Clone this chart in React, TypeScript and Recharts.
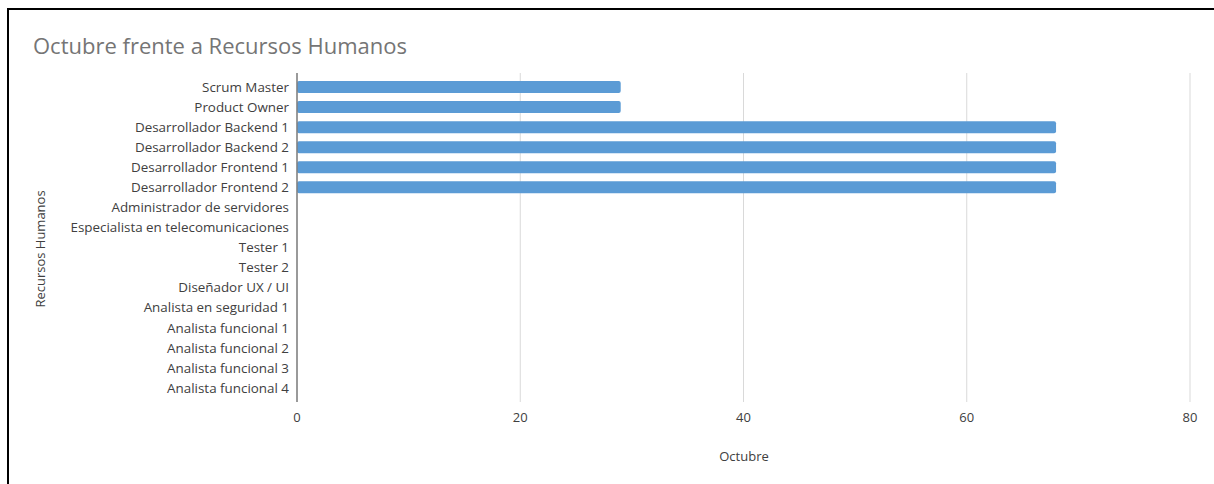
import { BarChart, Bar, XAxis, YAxis, CartesianGrid } from "recharts"

const roles = [
  "Scrum Master",
  "Product Owner",
  "Desarrollador Backend 1",
  "Desarrollador Backend 2",
  "Desarrollador Frontend 1",
  "Desarrollador Frontend 2",
  "Administrador de servidores",
  "Especialista en telecomunicaciones",
  "Tester 1",
  "Tester 2",
  "Diseñador UX / UI",
  "Analista en seguridad 1",
  "Analista funcional 1",
  "Analista funcional 2",
  "Analista funcional 3",
  "Analista funcional 4",
]

const octubre = [29, 29, 68, 68, 68, 68, 0, 0, 0, 0, 0, 0, 0, 0, 0, 0]

const xTicks = [0, 20, 40, 60, 80]

const FONT = "'Open Sans', sans-serif"

export default function App() {
  const data = roles.map((r, i) => ({ role: r, octubre: octubre[i] }))

  return (
    <div style={{ position: "fixed", left: 0, top: 0, width: 1214, height: 484, background: "#fff", overflow: "hidden", fontFamily: FONT }}>
      {/* frame, only top and left edges are visible */}
      <div style={{ position: "absolute", left: 7, top: 8, width: 1300, height: 600, borderTop: "2px solid #000", borderLeft: "2px solid #000" }} />
      <div style={{ position: "absolute", left: 33, top: 29, fontSize: 22, color: "#757575", whiteSpace: "nowrap", lineHeight: "32px" }}>
        Octubre frente a Recursos Humanos
      </div>
      <div style={{ position: "absolute", left: 40, top: 249, fontSize: 13, color: "#404040", whiteSpace: "nowrap", transform: "translate(-50%, -50%) rotate(-90deg)" }}>
        Recursos Humanos
      </div>
      <div style={{ position: "absolute", left: 744, top: 456, fontSize: 13, color: "#404040", whiteSpace: "nowrap", transform: "translate(-50%, -50%)" }}>
        Octubre
      </div>
      <div style={{ position: "absolute", left: 0, top: 0 }}>
        <BarChart
          width={1214}
          height={484}
          data={data}
          layout="vertical"
          margin={{ top: 73, right: 24, bottom: 52, left: 0 }}
        >
          <CartesianGrid horizontal={false} stroke="#d9d9d9" strokeWidth={1} />
          <XAxis
            type="number"
            domain={[0, 80]}
            ticks={xTicks}
            axisLine={false}
            tickLine={false}
            tickSize={0}
            tickMargin={11}
            height={30}
            tick={{ fontSize: 13, fill: "#404040", fontFamily: FONT }}
          />
          <YAxis
            type="category"
            dataKey="role"
            width={297}
            interval={0}
            padding={{ top: 4, bottom: 4 }}
            axisLine={{ stroke: "#7f7f7f", strokeWidth: 1.5 }}
            tickLine={false}
            tick={{ fontSize: 13.4, fill: "#404040", fontFamily: FONT }}
          />
          <Bar dataKey="octubre" fill="#5b9bd5" barSize={12} radius={2} isAnimationActive={false} />
        </BarChart>
      </div>
    </div>
  )
}
